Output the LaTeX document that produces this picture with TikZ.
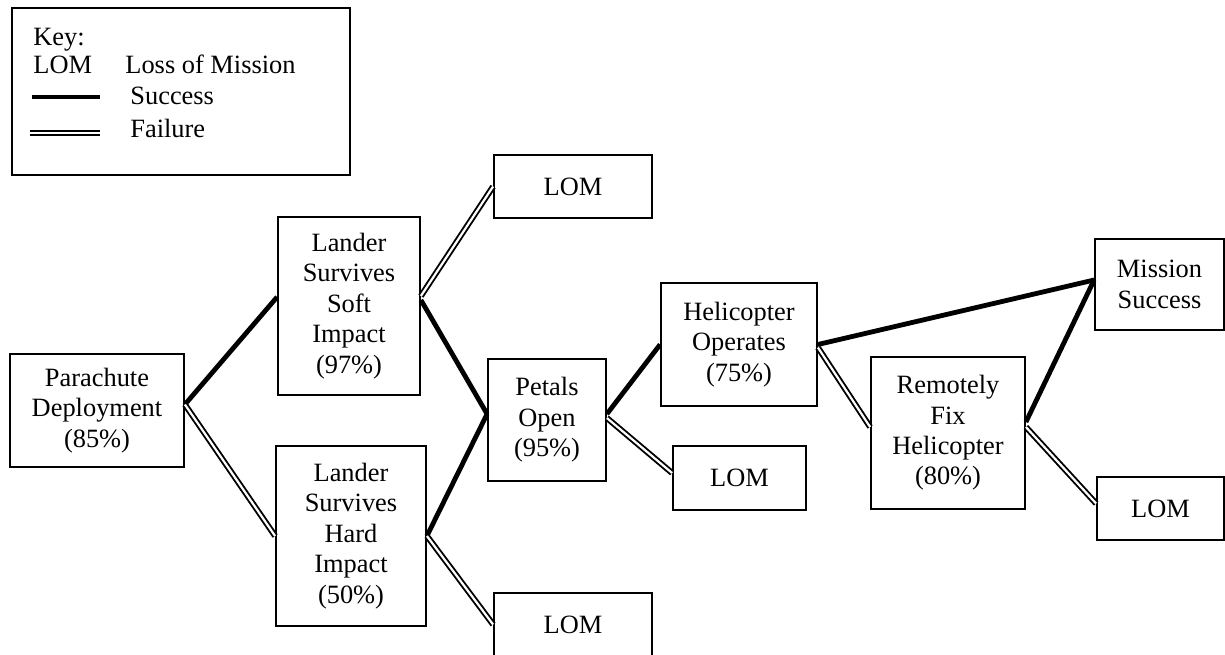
\documentclass[tikz,border=0pt]{standalone}
\usepackage{fontspec}
\setmainfont{Liberation Serif}
\usetikzlibrary{calc}
\begin{document}
\begin{tikzpicture}[x=0.5pt,y=-0.5pt,
  box/.style={draw,line width=0.9pt,inner sep=0pt,align=center,font=\fontsize{13.2}{15.2}\selectfont},
  lbl/.style={inner sep=0pt,anchor=base west,font=\fontsize{13.2}{15.2}\selectfont},
  succ/.style={line width=2.4pt},
  fail/.style={double,double distance=1.1pt,line width=0.95pt}]
\useasboundingbox (0,0) rectangle (1225,654);
% key
\node[box,minimum width=169pt,minimum height=83.5pt] (key) at (181,91.5) {};
\node[lbl] (keyt) at (33,45) {Key:};
\node[lbl] (keylom) at (33,73) {LOM};
\node[lbl] (keyloss) at (125,73) {Loss of Mission};
\node[lbl] (keysucc) at (130,104) {Success};
\node[lbl] (keyfail) at (130,137) {Failure};
\coordinate (s1) at (32,97);
\coordinate (s2) at (100,97);
\coordinate (f1) at (30,133);
\coordinate (f2) at (100,133);
\draw[succ] (s1) -- (s2);
\draw[fail] (f1) -- (f2);
% nodes
\node[box,minimum width=87pt,minimum height=56.5pt] (para) at (97,410.5) {Parachute\\Deployment\\(85\%)};
\node[box,minimum width=71pt,minimum height=89pt] (soft) at (349,306) {Lander\\Survives\\Soft\\Impact\\(97\%)};
\node[box,minimum width=75pt,minimum height=90pt] (hard) at (351,536) {Lander\\Survives\\Hard\\Impact\\(50\%)};
\node[box,minimum width=79pt,minimum height=31.5pt] (lomtop) at (573,186.5) {LOM};
\node[box,minimum width=59pt,minimum height=61pt] (petals) at (547,420) {Petals\\Open\\(95\%)};
\node[box,minimum width=79pt,minimum height=31.5pt] (lombot) at (573,624.5) {LOM};
\node[box,minimum width=78pt,minimum height=61.5pt] (heli) at (739,344.5) {Helicopter\\Operates\\(75\%)};
\node[box,minimum width=66.5pt,minimum height=32pt] (lommid) at (739.5,478) {LOM};
\node[box,minimum width=77pt,minimum height=76pt] (rf) at (948,433) {Remotely\\Fix\\Helicopter\\(80\%)};
\node[box,minimum width=64.5pt,minimum height=45.5pt] (ms) at (1159.5,284.5) {Mission\\Success};
\node[box,minimum width=63.5pt,minimum height=31.5pt] (lomr) at (1160.5,508.5) {LOM};
% connectors
\draw[succ] ($(para.east)+(0,-6)$) -- ($(soft.west)+(0,-9)$);
\draw[fail] ($(para.east)+(0,-6)$) -- (hard.west);
\draw[fail] ($(soft.east)+(0,-10)$) -- (lomtop.west);
\draw[succ] ($(soft.east)+(0,-6)$) -- ($(petals.west)+(0,-6)$);
\draw[succ] (hard.east) -- ($(petals.west)+(0,-6)$);
\draw[fail] (hard.east) -- (lombot.west);
\draw[succ] ($(petals.east)+(0,-6)$) -- (heli.west);
\draw[fail] ($(petals.east)+(0,-2)$) -- ($(lommid.west)+(0,-5)$);
\draw[succ] (heli.east) -- ($(ms.west)+(0,-4.5)$);
\draw[fail] ($(heli.east)+(0,3)$) -- ($(rf.west)+(0,-6)$);
\draw[succ] ($(rf.east)+(0,-11)$) -- ($(ms.west)+(0,-4.5)$);
\draw[fail] ($(rf.east)+(0,-6)$) -- ($(lomr.west)+(0,-5)$);
\end{tikzpicture}
\end{document}
